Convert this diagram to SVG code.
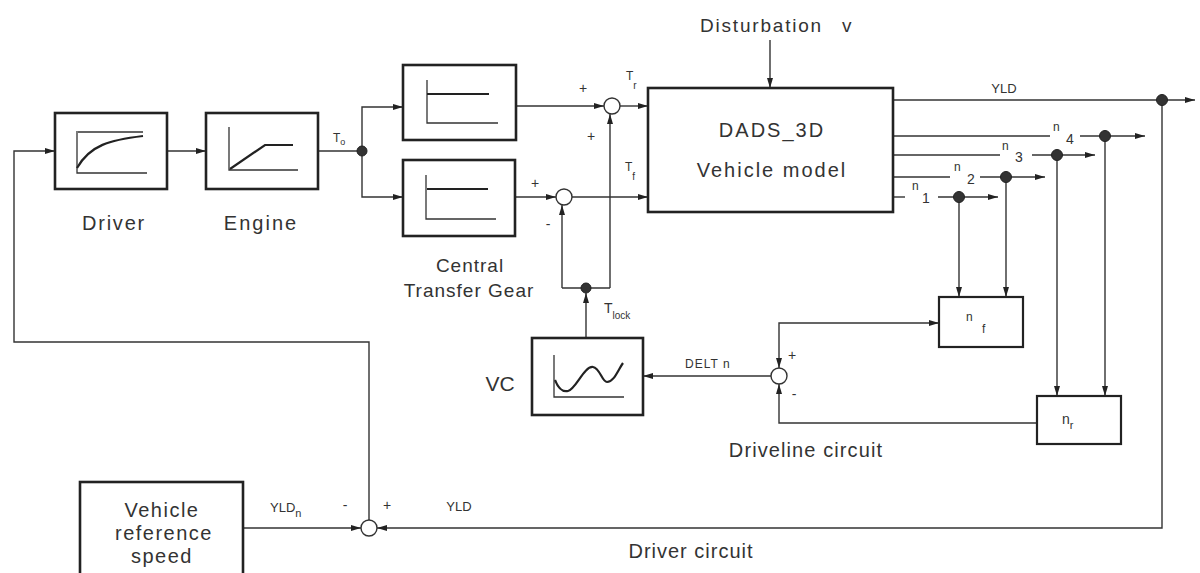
<svg xmlns="http://www.w3.org/2000/svg" width="1200" height="573" viewBox="0 0 1200 573">
<defs>
<marker id="ar" markerWidth="10" markerHeight="8" refX="10" refY="4" orient="auto-start-reverse" markerUnits="userSpaceOnUse"><path d="M0,1 L10,4 L0,7 Z" fill="#222"/></marker>
<style>
.box{fill:#fff;stroke:#222;stroke-width:2.6}
.sbox{fill:#fff;stroke:#222;stroke-width:2.2}
.ln{fill:none;stroke:#333;stroke-width:1.4}
.arr{fill:none;stroke:#333;stroke-width:1.4;marker-end:url(#ar)}
.g{fill:none;stroke:#333;stroke-width:1.3}
.gb{fill:none;stroke:#222;stroke-width:2.2}
.dot{fill:#333;stroke:#222;stroke-width:1}
.sum{fill:#fff;stroke:#333;stroke-width:1.4}
.t{font-family:"Liberation Sans",Arial,sans-serif;fill:#333}
.big{font-size:20px;letter-spacing:1.5px}
.sm{font-size:12px}
.md{font-size:14px}
</style>
</defs>
<rect width="1200" height="573" fill="#fff"/>

<g id="connectors">
<path class="arr" d="M167,151 H206"/>
<path class="arr" d="M369,520 V342 H14 V151 H55"/>
<path class="ln" d="M318,151 H362"/>
<path class="arr" d="M362,151 V107 H403"/>
<path class="arr" d="M362,151 V197 H403"/>
<path class="arr" d="M516,106 H604"/>
<path class="arr" d="M620,106 H648"/>
<path class="arr" d="M515,197 H556"/>
<path class="arr" d="M572,197 H648"/>
<path class="arr" d="M586,338 V293"/>
<path class="ln" d="M562,288 H610"/>
<path class="arr" d="M562,288 V205"/>
<path class="arr" d="M610,288 V114"/>
<path class="arr" d="M770,40 V88"/>
<path class="arr" d="M893,100 H1195"/>
<path class="ln" d="M893,136 H1050"/>
<path class="arr" d="M1080,136 H1145"/>
<path class="ln" d="M893,155 H1000"/>
<path class="arr" d="M1032,155 H1095"/>
<path class="ln" d="M893,177 H950"/>
<path class="arr" d="M980,177 H1045"/>
<path class="ln" d="M893,197 H905"/>
<path class="arr" d="M938,197 H998"/>
<path class="arr" d="M959,197 V297"/>
<path class="arr" d="M1006,177 V297"/>
<path class="arr" d="M1057,155 V396"/>
<path class="arr" d="M1105,136 V396"/>
<path class="arr" d="M939,323 H779 V368" marker-start="url(#ar)"/>
<path class="arr" d="M1037,423 H779 V384"/>
<path class="arr" d="M771,376 H643"/>
<path class="arr" d="M1162,100 V528 H377"/>
<path class="arr" d="M243,528 H361"/>
<circle class="dot" cx="362" cy="151" r="5"/>
<circle class="dot" cx="586" cy="288" r="5"/>
<circle class="dot" cx="1162" cy="100" r="5.5"/>
<circle class="dot" cx="1105" cy="136" r="5.5"/>
<circle class="dot" cx="1057" cy="155" r="5.5"/>
<circle class="dot" cx="1006" cy="177" r="5.5"/>
<circle class="dot" cx="959" cy="197" r="5.5"/>
</g>

<g id="driver">
<rect class="box" x="55" y="113" width="112" height="76"/>
<path class="g" d="M77,131 V173 H147 M78,132 H143" stroke-width="1"/>
<path class="gb" d="M77,168 C90,145 110,140 143,136" stroke-width="2"/>
<text class="t big" x="114" y="230" text-anchor="middle" style="letter-spacing:1.8px">Driver</text>
</g>

<g id="engine">
<rect class="box" x="206" y="113" width="112" height="76"/>
<path class="g" d="M229,127 V170 H298"/>
<path class="gb" d="M230,169 L265,145 H293" stroke-width="2"/>
<text class="t big" x="261" y="230" text-anchor="middle" style="letter-spacing:2px">Engine</text>
<text class="t sm" x="333" y="142">T<tspan font-size="9" dy="3">o</tspan></text>
</g>

<g id="ctg">
<rect class="box" x="403" y="65" width="113" height="75"/>
<path class="g" d="M427,80 V123 H498"/>
<path class="gb" d="M427,94 H489"/>
<rect class="box" x="403" y="160" width="112" height="76"/>
<path class="g" d="M426,175 V219 H496"/>
<path class="gb" d="M427,189 H488"/>
<text class="t big" x="470" y="272" text-anchor="middle" style="font-size:19px;letter-spacing:1px">Central</text>
<text class="t big" x="469" y="297" text-anchor="middle" style="font-size:19px;letter-spacing:1px">Transfer Gear</text>
</g>

<g id="sum_r">
<circle class="sum" cx="612" cy="106" r="8"/>
<text class="t md" x="583" y="93" text-anchor="middle">+</text>
<text class="t md" x="591" y="141" text-anchor="middle">+</text>
<text class="t sm" x="626" y="80">T<tspan font-size="10" dy="9">r</tspan></text>
</g>

<g id="sum_f">
<circle class="sum" cx="564" cy="197" r="8"/>
<text class="t md" x="535" y="188" text-anchor="middle">+</text>
<text class="t md" x="548" y="229" text-anchor="middle">-</text>
<text class="t sm" x="625" y="171">T<tspan font-size="10" dy="9">f</tspan></text>
</g>

<g id="tlock">
<text class="t md" x="604" y="313">T<tspan font-size="10" dy="6">lock</tspan></text>
</g>

<g id="dads">
<rect class="box" x="648" y="88" width="245" height="124"/>
<text class="t big" x="772" y="137" text-anchor="middle" style="letter-spacing:2px">DADS_3D</text>
<text class="t big" x="772" y="177" text-anchor="middle" style="letter-spacing:2px">Vehicle model</text>
</g>

<g id="disturbation">
<text class="t big" x="700" y="32" style="font-size:19px;letter-spacing:1.8px">Disturbation</text>
<text class="t big" x="842" y="32" style="font-size:19px">v</text>
</g>

<g id="outputs">
<text class="t sm" x="1004" y="93" text-anchor="middle" style="font-size:13px">YLD</text>
<text class="t sm" x="1053" y="131">n</text>
<text class="t md" x="1066" y="144">4</text>
<text class="t sm" x="1002" y="150">n</text>
<text class="t md" x="1015" y="162">3</text>
<text class="t sm" x="954" y="171">n</text>
<text class="t md" x="967" y="184">2</text>
<text class="t sm" x="912" y="190">n</text>
<text class="t md" x="922" y="203">1</text>
</g>

<g id="nf">
<rect class="sbox" x="939" y="297" width="84" height="50"/>
<text class="t sm" x="966" y="321">n</text>
<text class="t sm" x="982" y="333">f</text>
</g>

<g id="nr">
<rect class="sbox" x="1037" y="396" width="84" height="48"/>
<text class="t md" x="1062" y="424">n<tspan font-size="11" dy="5">r</tspan></text>
</g>

<g id="sum_d">
<circle class="sum" cx="779" cy="376" r="8"/>
<text class="t md" x="792" y="360" text-anchor="middle">+</text>
<text class="t md" x="794" y="399" text-anchor="middle">-</text>
<text class="t sm" x="685" y="368" style="letter-spacing:1px">DELT  n</text>
<text class="t big" x="806" y="457" text-anchor="middle" style="letter-spacing:1.1px">Driveline circuit</text>
</g>

<g id="vc">
<rect class="box" x="532" y="338" width="111" height="77"/>
<path class="g" d="M554,355 V397 H624" stroke-width="1"/>
<path class="gb" d="M555,380 C559,390 563,392 568,391 C576,389 584,366 593,367 C600,368 602,382 607,382 C614,382 618,370 623,363" stroke-width="2"/>
<text class="t" x="500" y="391" font-size="21" text-anchor="middle">VC</text>
</g>

<g id="vref">
<rect class="box" x="80" y="482" width="163" height="104"/>
<text class="t big" x="162" y="517" text-anchor="middle">Vehicle</text>
<text class="t big" x="164" y="540" text-anchor="middle">reference</text>
<text class="t big" x="162" y="563" text-anchor="middle">speed</text>
</g>

<g id="sum_v">
<circle class="sum" cx="369" cy="528" r="8"/>
<text class="t sm" x="270" y="512" style="font-size:13px">YLD<tspan font-size="11" dy="5">n</tspan></text>
<text class="t md" x="345" y="510" text-anchor="middle">-</text>
<text class="t md" x="387" y="510" text-anchor="middle">+</text>
<text class="t sm" x="459" y="511" text-anchor="middle" style="font-size:13px">YLD</text>
<text class="t big" x="691" y="558" text-anchor="middle" style="letter-spacing:1px">Driver circuit</text>
</g>
</svg>
